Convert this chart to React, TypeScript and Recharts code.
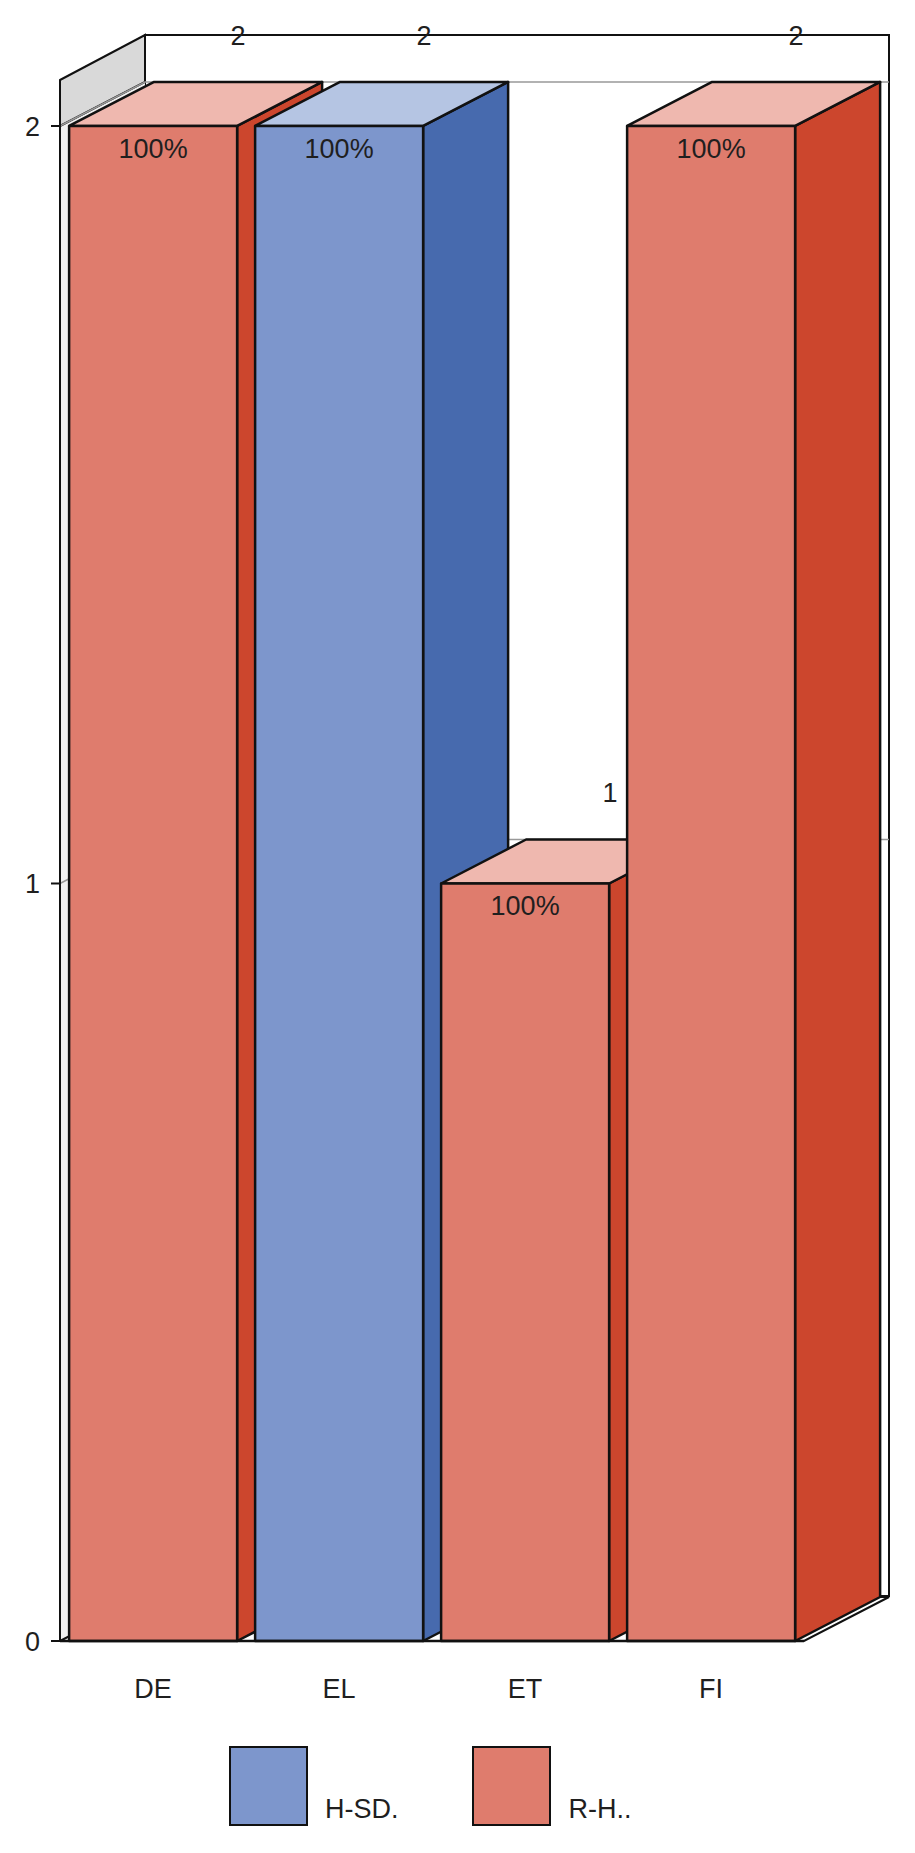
import {
  Bar,
  BarChart,
  LabelList,
  Legend,
  ReferenceArea,
  XAxis,
  YAxis,
} from "recharts";

const categories = ["DE", "EL", "ET", "FI"];
const counts = [2, 2, 1, 2];
const shares = [100, 100, 100, 100];
const groups = ["R-H", "H-SD", "R-H", "R-H"];
const yTicks = [0, 1, 2];
const legendNames = ["H-SD", "R-H"];
const legendLabels = ["H-SD.", "R-H.."];

const data = categories.map((code, i) => ({
  code,
  count: counts[i],
  share: shares[i],
  group: groups[i],
}));

const PALETTE: Record<string, { front: string; side: string; top: string }> = {
  "R-H": { front: "#DF7C6D", side: "#CC462D", top: "#EFB8AF" },
  "H-SD": { front: "#7D96CC", side: "#476AAE", top: "#B5C5E3" },
};

const FONT = "'Liberation Sans', Arial, sans-serif";
const TEXT = "#1f1f1f";
const EDGE = "#111";
const DX = 85;
const DY = 44;

function Box(props: any) {
  const { x, y, width, height, payload } = props;
  const c = PALETTE[payload.group];
  const r = x + width;
  const b = y + height;
  return (
    <g stroke={EDGE} strokeWidth={2.5} strokeLinejoin="round">
      <polygon
        points={`${r},${y} ${r + DX},${y - DY} ${r + DX},${b - DY} ${r},${b}`}
        fill={c.side}
      />
      <polygon
        points={`${x},${y} ${x + DX},${y - DY} ${r + DX},${y - DY} ${r},${y}`}
        fill={c.top}
      />
      <rect x={x} y={y} width={width} height={height} fill={c.front} />
    </g>
  );
}

function Walls(props: any) {
  const { x, y, width, height } = props;
  const r = x + width;
  const b = y + height;
  const back = x + DX;
  const gridTop = y + 46;
  return (
    <g stroke={EDGE} strokeWidth={2}>
      <rect x={back} y={y - DY - 1} width={width} height={height} fill="#fff" />
      <polygon
        points={`${x},${gridTop} ${back},${gridTop - DY} ${back},${b - DY} ${x},${b}`}
        fill="#f1f1f1"
        stroke="none"
      />
      <polygon
        points={`${x},${y} ${back},${y - DY - 1} ${back},${gridTop - DY} ${x},${gridTop}`}
        fill="#d9d9d9"
      />
      <line x1={x} y1={y} x2={x} y2={b} />
      <polygon
        points={`${x},${b} ${back},${b - DY} ${r + DX},${b - DY} ${r},${b}`}
        fill="#fff"
      />
    </g>
  );
}

function BackGrid(props: any) {
  const { x, y, width } = props;
  return (
    <polyline
      points={`${x},${y} ${x + DX},${y - DY} ${x + width + DX},${y - DY}`}
      fill="none"
      stroke="#999"
      strokeWidth={1.5}
    />
  );
}

function CountLabel(props: any) {
  const { x, y, width, value } = props;
  return (
    <text
      x={x + width / 2 + DX}
      y={y - 90}
      textAnchor="middle"
      dominantBaseline="central"
      fontSize={27}
      fontFamily={FONT}
      fill={TEXT}
    >
      {value}
    </text>
  );
}

function ShareLabel(props: any) {
  const { x, y, width, value } = props;
  return (
    <text
      x={x + width / 2}
      y={y + 23}
      textAnchor="middle"
      dominantBaseline="central"
      fontSize={27}
      fontFamily={FONT}
      fill={TEXT}
    >
      {value}%
    </text>
  );
}

function LegendBox() {
  return (
    <div style={{ position: "relative", width: 915, height: 80, fontFamily: FONT }}>
      {legendNames.map((name, i) => (
        <div key={name}>
          <div
            style={{
              position: "absolute",
              left: 229 + i * 242.5,
              top: 0,
              width: 79,
              height: 80,
              boxSizing: "border-box",
              border: `2.5px solid ${EDGE}`,
              background: PALETTE[name].front,
            }}
          />
          <div
            style={{
              position: "absolute",
              left: 325 + i * 243.5,
              top: 46,
              fontSize: 27,
              lineHeight: "34px",
              color: TEXT,
            }}
          >
            {legendLabels[i]}
          </div>
        </div>
      ))}
    </div>
  );
}

export default function App() {
  return (
    <div
      style={{
        position: "absolute",
        left: 0,
        top: 0,
        width: 915,
        height: 1853,
        background: "#fff",
      }}
    >
      <BarChart
        width={915}
        height={1853}
        data={data}
        barCategoryGap="4.9%"
        margin={{ top: 80, right: 111, bottom: 27, left: 0 }}
      >
        <ReferenceArea y1={0} y2={2.0607} shape={Walls} ifOverflow="visible" />
        {yTicks.slice(1).map((t) => (
          <ReferenceArea key={t} y1={t} y2={t} shape={BackGrid} ifOverflow="visible" />
        ))}
        <XAxis
          dataKey="code"
          height={105}
          tickLine={false}
          tickMargin={32}
          axisLine={{ stroke: EDGE, strokeWidth: 2.5 }}
          tick={{ fontSize: 27, fontFamily: FONT, fill: TEXT }}
        />
        <YAxis
          width={60}
          domain={[0, 2.0607]}
          ticks={yTicks}
          interval={0}
          tickSize={9}
          tickMargin={11}
          axisLine={{ stroke: EDGE, strokeWidth: 2 }}
          tickLine={{ stroke: EDGE, strokeWidth: 2 }}
          tick={{ fontSize: 27, fontFamily: FONT, fill: TEXT }}
        />
        <Legend
          verticalAlign="bottom"
          height={80}
          content={LegendBox}
          wrapperStyle={{ left: 0, width: 915 }}
        />
        <Bar dataKey="count" shape={Box} isAnimationActive={false}>
          <LabelList dataKey="count" content={CountLabel} />
          <LabelList dataKey="share" content={ShareLabel} />
        </Bar>
      </BarChart>
    </div>
  );
}
